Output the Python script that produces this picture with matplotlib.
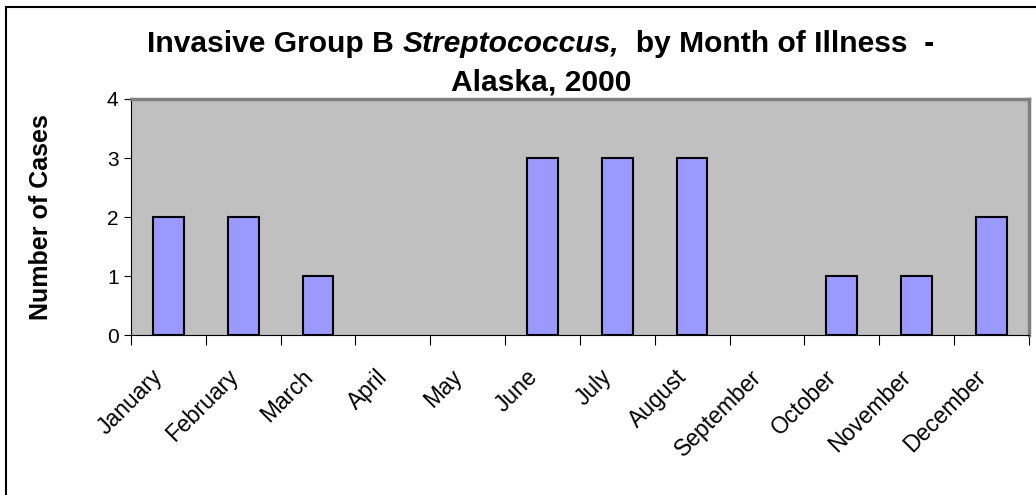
import matplotlib
matplotlib.use('Agg')
import matplotlib.pyplot as plt
import matplotlib.transforms as mtransforms
import numpy as np

plt.rcParams['font.family'] = ['Liberation Sans', 'DejaVu Sans']

months = ['January', 'February', 'March', 'April', 'May', 'June', 'July',
          'August', 'September', 'October', 'November', 'December']
cases = [2, 2, 1, 0, 0, 3, 3, 3, 0, 1, 1, 2]
yticks = [0, 1, 2, 3, 4]

fig = plt.figure(figsize=(10.36, 4.95), dpi=100)
ax = fig.add_axes([0.1265, 0.323, 0.8665, 0.477])

x = np.arange(len(months))
bars = ax.bar(x, cases, width=0.41, color='#9999FF', edgecolor='black', linewidth=1.5, zorder=3)
# empty months: no visible bar outline on the axis
for b, v in zip(bars, cases):
    if v == 0:
        b.set_visible(False)
ax.set_facecolor('#C0C0C0')
ax.set_xlim(-0.5, len(months) - 0.5)
ax.set_ylim(0, 4)
ax.set_yticks(yticks)
ax.tick_params(axis='y', labelsize=15, length=5, direction='out', color='black', pad=4)

# ticks between categories, labels at centres
ax.set_xticks(np.arange(len(months) + 1) - 0.5)
ax.set_xticklabels([])
ax.tick_params(axis='x', which='major', length=7, color='black')
ax.set_xticks(x, minor=True)
ax.set_xticklabels(months, minor=True, rotation=45, ha='right', rotation_mode='anchor', fontsize=16.5)
ax.tick_params(axis='x', which='minor', length=0, pad=16)
shift = mtransforms.ScaledTranslation(-0.17, -0.08, fig.dpi_scale_trans)
for lab in ax.get_xticklabels(minor=True):
    lab.set_transform(lab.get_transform() + shift)

for side in ['top', 'right']:
    ax.spines[side].set_color('#808080')
    ax.spines[side].set_linewidth(2.5)
ax.spines['left'].set_color('black')
ax.spines['bottom'].set_color('black')

ax.set_ylabel('Number of Cases', fontsize=18, fontweight='bold')
ax.yaxis.set_label_coords(-0.087, 0.5)

# title with italic genus name
t1 = fig.text(0.142, 0.895, 'Invasive Group B ', fontsize=21.6, fontweight='bold', va='baseline')
t2 = ax.annotate('Streptococcus,', xy=(1, 0), xycoords=t1, fontsize=21.6,
                 fontweight='bold', style='italic', va='bottom')
t3 = ax.annotate('  by Month of Illness  -', xy=(1, 0), xycoords=t2, fontsize=21.6,
                 fontweight='bold', va='bottom')
fig.text(0.522, 0.818, 'Alaska, 2000', fontsize=21.6, fontweight='bold', ha='center', va='baseline')

# outer chart border
fig.patches.append(plt.Rectangle((0.006, -0.01), 1.2, 0.996, transform=fig.transFigure,
                                 fill=False, edgecolor='black', linewidth=1.5))

fig.savefig('out.png', dpi=100)
